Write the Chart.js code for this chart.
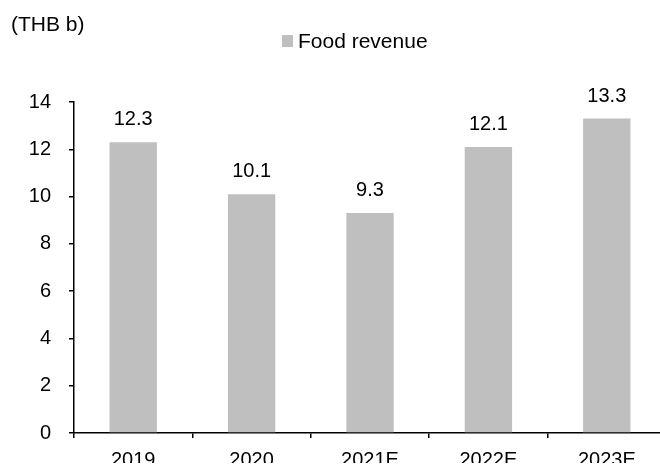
<!DOCTYPE html>
<html>
<head>
<meta charset="utf-8">
<title>Food revenue</title>
<script src="https://cdn.jsdelivr.net/npm/chart.js@4/dist/chart.umd.min.js"></script>
<style>
  html, body { margin: 0; padding: 0; background: #fff; overflow: hidden; }
  #wrap { width: 700px; height: 480px; }
</style>
</head>
<body>
<div id="wrap"><canvas id="c" width="700" height="480"></canvas></div>
<script>
// Revenue series (THB b)
const years = ['2019', '2020', '2021E', '2022E', '2023E'];
const foodRevenue = [12.3, 10.1, 9.3, 12.1, 13.3];
const yTicks = [0, 2, 4, 6, 8, 10, 12, 14];
const unitLabel = '(THB b)';
const seriesName = 'Food revenue';

const FONT = '"Liberation Sans", Arial, Helvetica, sans-serif';
const BAR_GREY = '#BFBFBF';

// Value labels above each bar
const valueLabels = {
  id: 'valueLabels',
  afterDatasetsDraw(chart) {
    const ctx = chart.ctx;
    const meta = chart.getDatasetMeta(0);
    const data = chart.data.datasets[0].data;
    ctx.save();
    ctx.font = '20px ' + FONT;
    ctx.fillStyle = '#000';
    ctx.textAlign = 'center';
    ctx.textBaseline = 'alphabetic';
    meta.data.forEach((bar, i) => {
      ctx.fillText(data[i].toFixed(1), bar.x, bar.y - 17);
    });
    ctx.restore();
  }
};

// Unit caption and single-series key at the top
const headerKey = {
  id: 'headerKey',
  afterDraw(chart) {
    const ctx = chart.ctx;
    const ds = chart.data.datasets[0];
    ctx.save();
    ctx.font = '21px ' + FONT;
    ctx.fillStyle = '#000';
    ctx.textAlign = 'left';
    ctx.textBaseline = 'middle';
    ctx.fillText(unitLabel, 11, 25);
    ctx.fillStyle = ds.backgroundColor;
    ctx.fillRect(282, 35, 11, 12);
    ctx.fillStyle = '#000';
    ctx.fillText(ds.label, 298, 42);
    ctx.restore();
  }
};

new Chart(document.getElementById('c'), {
  type: 'bar',
  data: {
    labels: years,
    datasets: [{
      label: seriesName,
      data: foodRevenue,
      backgroundColor: BAR_GREY,
      borderWidth: 0,
      barPercentage: 0.4,
      categoryPercentage: 1.0
    }]
  },
  options: {
    responsive: false,
    animation: false,
    layout: { padding: { top: 102, left: 0, right: 34, bottom: 17 } },
    plugins: {
      legend: { display: false },
      tooltip: { enabled: false }
    },
    scales: {
      x: {
        afterFit(scale) { scale.height = 30; },
        border: { color: '#000', width: 1.5 },
        grid: { offset: true, drawOnChartArea: false, drawTicks: true, tickLength: 5, color: '#000', lineWidth: 1.5 },
        ticks: { color: '#000', font: { family: FONT, size: 20 }, padding: 10, maxRotation: 0, autoSkip: false }
      },
      y: {
        min: 0,
        max: 14,
        afterFit(scale) { scale.width = 74; },
        afterBuildTicks(scale) { scale.ticks = yTicks.map(v => ({ value: v })); },
        border: { color: '#000', width: 1.5 },
        grid: { drawOnChartArea: false, drawTicks: true, tickLength: 5, color: '#000', lineWidth: 1.5 },
        ticks: { color: '#000', font: { family: FONT, size: 20 }, padding: 18 }
      }
    }
  },
  plugins: [valueLabels, headerKey]
});
</script>
</body>
</html>
